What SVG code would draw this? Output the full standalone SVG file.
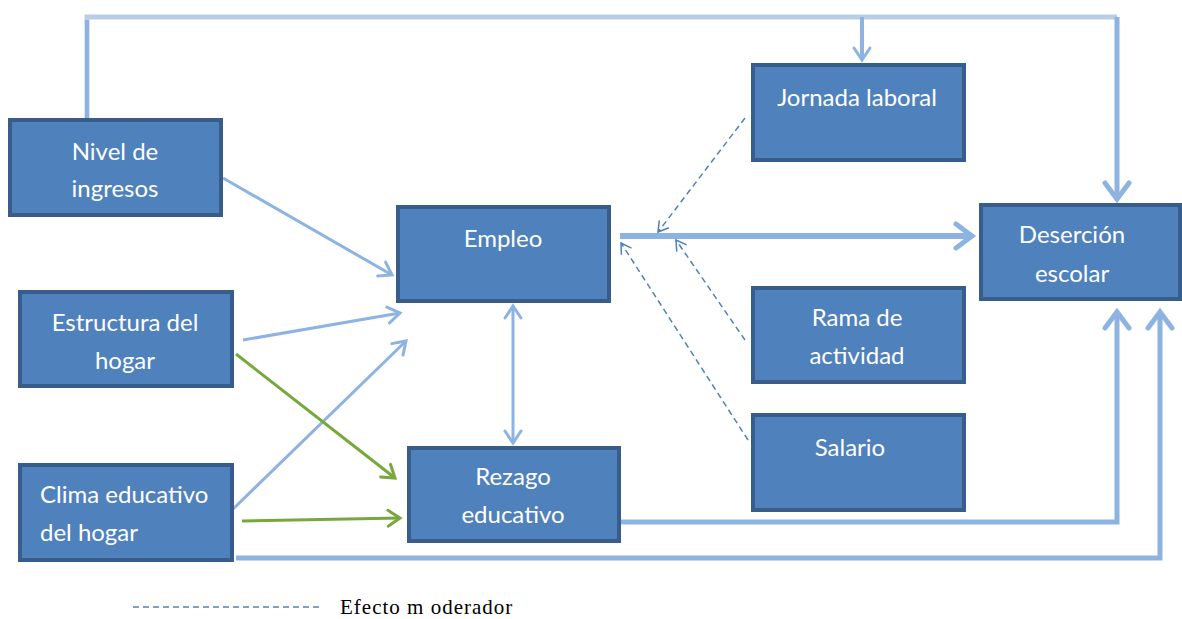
<svg xmlns="http://www.w3.org/2000/svg" width="1182" height="619" viewBox="0 0 1182 619">
<style>
.box{fill:#4f81bd;stroke:#385d8a;stroke-width:4}
.t{font-family:Lato,"Open Sans","Liberation Sans",sans-serif;font-size:24px;fill:#ffffff;text-anchor:middle}
.tl{font-family:Lato,"Open Sans","Liberation Sans",sans-serif;font-size:24px;fill:#ffffff;text-anchor:start}
.c{fill:none;stroke:#8db3e2;stroke-width:3}
.g{fill:none;stroke:#77a83c;stroke-width:3}
.d{fill:none;stroke:#4f81bd;stroke-width:1.5;stroke-dasharray:6 4}
</style>
<defs>
<marker id="a" markerUnits="userSpaceOnUse" viewBox="-14 -10 16 20" refX="0" refY="0" markerWidth="16" markerHeight="20" orient="auto-start-reverse" overflow="visible">
<path d="M-12,-8 L0,0 L-12,8" fill="none" stroke="#8db3e2" stroke-width="3" stroke-linecap="round"/>
</marker>
<marker id="ab" markerUnits="userSpaceOnUse" viewBox="-20 -14 22 28" refX="0" refY="0" markerWidth="22" markerHeight="28" orient="auto" overflow="visible">
<path d="M-16,-12 L0,0 L-16,12" fill="none" stroke="#8db3e2" stroke-width="5" stroke-linecap="round"/>
</marker>
<marker id="ag" markerUnits="userSpaceOnUse" viewBox="-14 -10 16 20" refX="0" refY="0" markerWidth="16" markerHeight="20" orient="auto" overflow="visible">
<path d="M-12,-8 L0,0 L-12,8" fill="none" stroke="#77a83c" stroke-width="3" stroke-linecap="round"/>
</marker>
<marker id="ad" markerUnits="userSpaceOnUse" viewBox="-12 -8 14 16" refX="0" refY="0" markerWidth="14" markerHeight="16" orient="auto" overflow="visible">
<path d="M-10,-6 L0,0 L-10,6" fill="none" stroke="#4f81bd" stroke-width="1.5"/>
</marker>
</defs>
<g id="connectors">
<path d="M87,118 V17 H1117" fill="none" stroke="#b9cde5" stroke-width="5"/>
<path d="M87,118 V20" fill="none" stroke="#8db3e2" stroke-width="4"/>
<path d="M1117,17 V199" fill="none" stroke="#8db3e2" stroke-width="5" marker-end="url(#ab)"/>
<path d="M862,17 V60" fill="none" stroke="#8db3e2" stroke-width="4" marker-end="url(#a)"/>
<path d="M620,236 H972" fill="none" stroke="#8db3e2" stroke-width="6" marker-end="url(#ab)"/>
<path class="c" d="M223,178 L392,275" marker-end="url(#a)"/>
<path class="c" d="M243,340 L400,313" marker-end="url(#a)"/>
<path class="c" d="M232,510 L406,341" marker-end="url(#a)"/>
<path class="g" d="M236,354 L395,478" marker-end="url(#ag)"/>
<path class="g" d="M242,521 L400,518" marker-end="url(#ag)"/>
<path class="c" d="M513,306 V443" marker-start="url(#a)" marker-end="url(#a)"/>
<path d="M621,522 H1117 V312" fill="none" stroke="#8db3e2" stroke-width="5" marker-end="url(#ab)"/>
<path d="M236,558 H1160 V312" fill="none" stroke="#8db3e2" stroke-width="5" marker-end="url(#ab)"/>
<path class="d" d="M745,118 L658,232" marker-end="url(#ad)"/>
<path class="d" d="M745,340 L676,240" marker-end="url(#ad)"/>
<path class="d" d="M748,440 L621,243" marker-end="url(#ad)"/>
</g>
<g id="nivel"><rect class="box" x="10" y="120" width="211" height="95"/><text class="t" x="115" y="160">Nivel de</text><text class="t" x="115" y="197">ingresos</text></g>
<g id="estructura"><rect class="box" x="20" y="292" width="212" height="94"/><text class="t" x="125" y="331">Estructura del</text><text class="t" x="125" y="369">hogar</text></g>
<g id="clima"><rect class="box" x="20" y="465" width="212" height="95"/><text class="tl" x="40" y="503">Clima educativo</text><text class="tl" x="40" y="541">del hogar</text></g>
<g id="empleo"><rect class="box" x="398" y="207" width="211" height="94"/><text class="t" x="503" y="247">Empleo</text></g>
<g id="rezago"><rect class="box" x="409" y="448" width="210" height="93"/><text class="t" x="513" y="485">Rezago</text><text class="t" x="513" y="523">educativo</text></g>
<g id="jornada"><rect class="box" x="753" y="65" width="211" height="95"/><text class="t" x="857" y="106">Jornada laboral</text></g>
<g id="desercion"><rect class="box" x="981" y="205" width="199" height="94"/><text class="t" x="1072" y="243">Deserción</text><text class="t" x="1072" y="282">escolar</text></g>
<g id="rama"><rect class="box" x="753" y="288" width="211" height="94"/><text class="t" x="857" y="326">Rama de</text><text class="t" x="857" y="364">actividad</text></g>
<g id="salario"><rect class="box" x="753" y="415" width="211" height="95"/><text class="t" x="850" y="456">Salario</text></g>
<g id="legend">
<path class="d" d="M133,607 H320" stroke-dasharray="5 4"/>
<text x="340" y="614" font-family="'Liberation Serif',serif" font-size="21" letter-spacing="1" fill="#000">Efecto m oderador</text>
</g>
</svg>
